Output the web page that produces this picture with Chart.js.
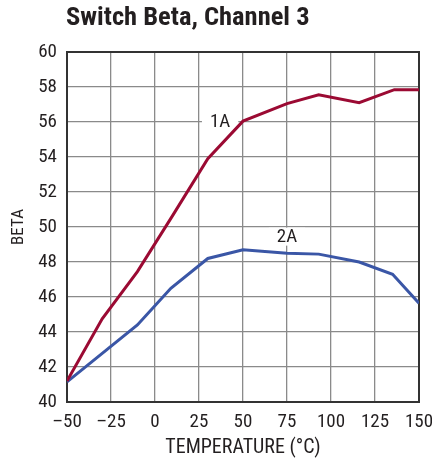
<!DOCTYPE html>
<html>
<head>
<meta charset="utf-8">
<script src="https://cdn.jsdelivr.net/npm/chart.js@4"></script>
<style>
    body { margin: 0; background: #fff; }
    #wrap { position: relative; width: 432px; height: 464px; }
    #titulo {
        position: absolute; left: 66px; top: 0px;
        font-family: "Liberation Sans Narrow", "Roboto Condensed", Roboto, sans-serif;
        font-weight: bold; font-size: 26.5px; color: #231f20;
    }
</style>
</head>
<body>
<div id="wrap">
    <div id="titulo">Switch Beta, Channel 3</div>
    <canvas id="grafico" width="432" height="464"></canvas>
</div>
<script>
// dados
var temp1A = [-50, -30, -10, 10, 30, 50, 75, 93, 116, 136, 150];
var beta1A = [41.2, 44.75, 47.45, 50.65, 53.9, 56.05, 57.05, 57.55, 57.1, 57.85, 57.85];
var temp2A = [-50, -10, 9, 30, 50, 75, 93, 116, 135, 150];
var beta2A = [41.15, 44.4, 46.5, 48.2, 48.7, 48.5, 48.45, 48.0, 47.3, 45.65];
var rotulos = [
    { texto: "1A", x: 37, y: 56.05 },
    { texto: "2A", x: 75, y: 49.45 }
];

var fonte = "'Liberation Sans Narrow', 'Roboto Condensed', Roboto, sans-serif";

function pontos(xs, ys) {
    var lista = [];
    for (var i = 0; i < xs.length; i++) {
        lista.push({ x: xs[i], y: ys[i] });
    }
    return lista;
}

// borda da area do grafico
var pluginBorda = {
    id: "borda",
    beforeDatasetsDraw: function (chart) {
        var a = chart.chartArea;
        var ctx = chart.ctx;
        ctx.save();
        ctx.strokeStyle = "#333";
        ctx.lineWidth = 2;
        ctx.strokeRect(a.left, a.top, a.right - a.left, a.bottom - a.top);
        ctx.restore();
    }
};

// rotulos 1A / 2A com fundo branco
var pluginRotulos = {
    id: "rotulos",
    beforeDatasetsDraw: function (chart) {
        var ctx = chart.ctx;
        ctx.save();
        ctx.font = "19px " + fonte;
        ctx.textAlign = "center";
        ctx.textBaseline = "middle";
        for (var i = 0; i < rotulos.length; i++) {
            var px = chart.scales.x.getPixelForValue(rotulos[i].x);
            var py = chart.scales.y.getPixelForValue(rotulos[i].y);
            var w = ctx.measureText(rotulos[i].texto).width;
            ctx.fillStyle = "#fff";
            ctx.fillRect(px - w / 2 - 8, py - 9, w + 16, 18);
            ctx.fillStyle = "#231f20";
            ctx.fillText(rotulos[i].texto, px, py + 1);
        }
        ctx.restore();
    }
};

new Chart(document.getElementById("grafico").getContext("2d"), {
    type: "line",
    data: {
        datasets: [{
            label: "1A",
            data: pontos(temp1A, beta1A),
            borderColor: "#9b0a33",
            borderWidth: 3,
            pointRadius: 0,
            tension: 0
        }, {
            label: "2A",
            data: pontos(temp2A, beta2A),
            borderColor: "#3a56a6",
            borderWidth: 3,
            pointRadius: 0,
            tension: 0
        }]
    },
    options: {
        responsive: false,
        animation: false,
        layout: { padding: { left: 0, right: 13, top: 52, bottom: 0 } },
        plugins: { legend: { display: false }, tooltip: { enabled: false } },
        scales: {
            x: {
                type: "linear",
                min: -50, max: 150,
                afterFit: function (s) { s.height = 62; s.paddingLeft = 0; s.paddingRight = 0; },
                ticks: {
                    stepSize: 25,
                    color: "#231f20",
                    font: { family: fonte, size: 19 },
                    padding: 9,
                    maxRotation: 0,
                    callback: function (v) { return v < 0 ? "\u2013" + Math.abs(v) : v; }
                },
                grid: { color: "#8a8a8a", lineWidth: 1.3, drawTicks: false },
                border: { display: false },
                title: {
                    display: true, text: "TEMPERATURE (°C)", color: "#231f20",
                    font: { family: fonte, size: 20 }, padding: { top: 0, bottom: 4 }
                }
            },
            y: {
                min: 40, max: 60,
                afterFit: function (s) { s.width = 67; },
                ticks: {
                    stepSize: 2,
                    color: "#231f20",
                    font: { family: fonte, size: 19 },
                    padding: 10
                },
                grid: { color: "#8a8a8a", lineWidth: 1.3, drawTicks: false },
                border: { display: false },
                title: {
                    display: true, text: "BETA", color: "#231f20",
                    font: { family: fonte, size: 17 }, padding: { top: 9, bottom: 0 }
                }
            }
        }
    },
    plugins: [pluginBorda, pluginRotulos]
});
</script>
</body>
</html>
